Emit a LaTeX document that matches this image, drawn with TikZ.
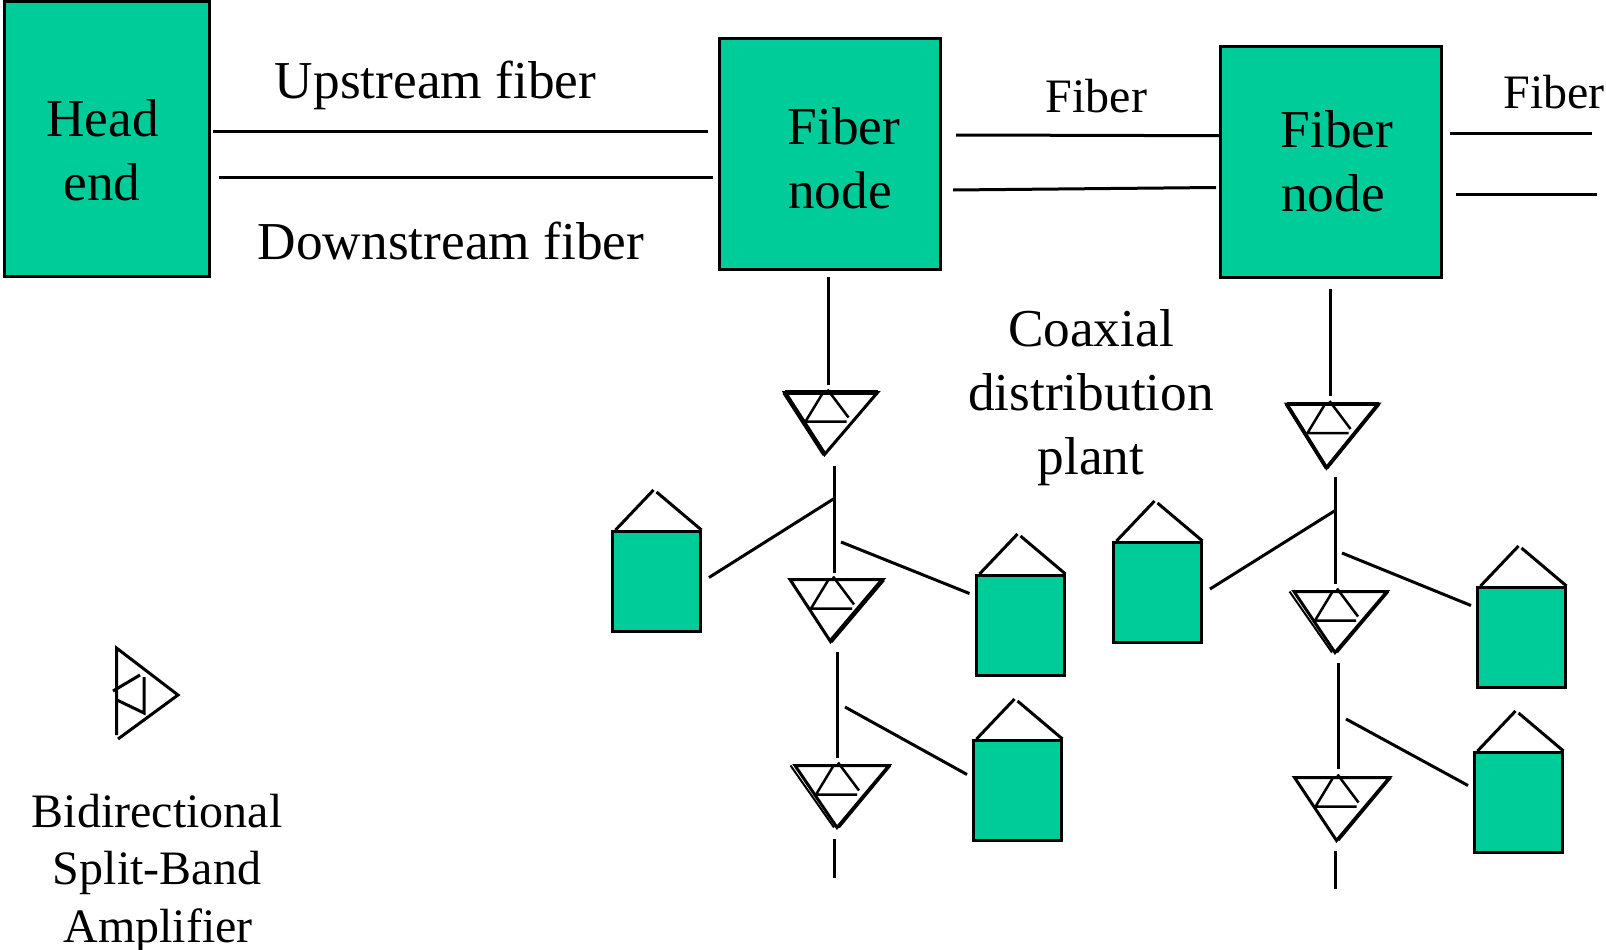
\documentclass[tikz,border=0pt]{standalone}
\usepackage{fontspec}
\usetikzlibrary{calc}
\setmainfont{Liberation Serif}
\definecolor{boxgreen}{HTML}{00CC99}
\tikzset{
  conn/.style={draw=black,line width=3pt},
  heavy/.style={draw=black,line width=4.6pt},
  dbl/.style={draw=black,line width=2pt},
  greenbox/.style={draw=black,fill=boxgreen,line width=3pt,rectangle,inner sep=0pt,outer sep=0pt,anchor=north west},
  housebox/.style={greenbox,minimum width=88pt,minimum height=100pt},
  lab/.style={anchor=base,inner sep=0pt,font=\fontsize{53.3}{60}\selectfont},
  smalllab/.style={anchor=base,inner sep=0pt,font=\fontsize{48}{56}\selectfont},
}
% amplifier: name, x, y of top-left corner, width, bottom dx, bottom dy
\newcommand{\ampunit}[6]{%
  \begin{scope}[shift={(#2,#3)}]
    \coordinate (#1l) at (0,0);
    \coordinate (#1r) at (#4,0);
    \coordinate (#1b) at (#5,#6);
    \coordinate (#1i1) at (21,29);
    \coordinate (#1i2) at (62,29);
    \coordinate (#1i3) at (38,1);
    \coordinate (#1i4) at (46,1);
    \coordinate (#1i5) at (64,25);
    \coordinate (#1i6) at (43,-3);
    \draw[conn,line join=miter] (#1l) -- (#1r) -- (#1b) -- cycle;
    \draw[conn,line width=2.5pt] (#1i3) -- (#1i1) -- (#1i2);
    \draw[conn,line width=2.5pt] (#1i6) -- (#1i4) -- (#1i5);
  \end{scope}}
% house: name, x, y of box top-left corner
\newcommand{\houseunit}[3]{%
  \node[housebox] (#1) at (#2,#3) {};
  \begin{scope}[shift={(#2,#3)}]
    \coordinate (#1r1) at (3,-1);
    \coordinate (#1r2) at (41,-41);
    \coordinate (#1r3) at (44,-39);
    \coordinate (#1r4) at (89,-1);
    \draw[conn] (#1r1) -- (#1r2);
    \draw[conn] (#1r3) -- (#1r4);
  \end{scope}}
\begin{document}
\begin{tikzpicture}[x=1pt,y=-1pt]
\useasboundingbox (0,0) rectangle (1606,950);

% main boxes
\node[greenbox,minimum width=205pt,minimum height=274pt] (head) at (4,2) {};
\node[greenbox,minimum width=221pt,minimum height=230pt] (fn1) at (719,39) {};
\node[greenbox,minimum width=221pt,minimum height=230pt] (fn2) at (1220,47) {};

% box texts
\node[lab] (t1) at (102.5,136.5) {Head};
\node[lab] (t2) at (102,200.5) {end};
\node[lab] (t3) at (844,144.5) {Fiber};
\node[lab] (t4) at (840,208.5) {node};
\node[lab] (t5) at (1337,147.5) {Fiber};
\node[lab] (t6) at (1333,211.5) {node};

% free labels
\node[lab] (l1) at (435.5,99) {Upstream fiber};
\node[lab] (l2) at (451,259.5) {Downstream fiber};
\node[smalllab] (l3) at (1096.5,112) {Fiber};
\node[smalllab] (l4) at (1554,108) {Fiber};
\node[lab] (l5) at (1091,346.5) {Coaxial};
\node[lab] (l6) at (1091,410.5) {distribution};
\node[lab] (l7) at (1091,474.5) {plant};
\node[smalllab] (l8) at (157,827) {Bidirectional};
\node[smalllab] (l9) at (157,884) {Split-Band};
\node[smalllab] (l10) at (158,942) {Amplifier};

% connector ends, top row
\coordinate (u1) at (213,131.5);   \coordinate (u2) at (708,131.5);
\coordinate (d1) at (219,177.5); \coordinate (d2) at (713,177.5);
\coordinate (f1) at (956,135);   \coordinate (f2) at (1220,135.7);
\coordinate (g1) at (953,190);   \coordinate (g2) at (1216,187.5);
\coordinate (h1) at (1450,133.5);\coordinate (h2) at (1592,133.5);
\coordinate (k1) at (1456,194.5);  \coordinate (k2) at (1597,194.5);
\draw[conn] (u1) -- (u2);
\draw[conn] (d1) -- (d2);
\draw[conn] (f1) -- (f2);
\draw[conn] (g1) -- (g2);
\draw[conn] (h1) -- (h2);
\draw[conn] (k1) -- (k2);

% amplifiers
\ampunit{a1}{784.5}{392.5}{93}{40}{62}
\ampunit{a2}{790}{579.5}{93}{40.5}{62}
\ampunit{a3}{795}{765.5}{94}{42}{62}
\ampunit{b1}{1286.5}{404}{92}{40}{64}
\ampunit{b2}{1294}{591.5}{93}{41}{61}
\ampunit{b3}{1294.5}{777.5}{95}{42}{63}
% heavier and doubled sides
\draw[heavy] (a1l) -- (a1b);
\draw[heavy] (a1l) -- (a1r);
\draw[heavy] (a2r) -- (a2b);
\draw[dbl] ($(a3l)+(-4.5,0)$) -- ($(a3b)+(-3,0)$);
\draw[dbl] ($(a3r)+(1.5,0)$) -- ($(a3b)+(2,0)$);
\draw[heavy] (b1l) -- (b1r);
\draw[heavy,line width=3.8pt] (b1l) -- (b1b);
\draw[heavy,line width=3.8pt] (b1r) -- (b1b);
\draw[dbl] ($(b2l)+(-4.5,0)$) -- ($(b2b)+(-3,0)$);
\draw[dbl] ($(b2r)+(1.5,0)$) -- ($(b2b)+(2,0)$);
\draw[heavy,line width=3.8pt] (b3l) -- (b3r);
\draw[dbl] ($(b3r)+(1.5,0)$) -- ($(b3b)+(2,0)$);

% houses
\houseunit{ha}{612.5}{531}
\houseunit{hb}{976.5}{575}
\houseunit{hc}{973.5}{740}
\houseunit{hd}{1113.5}{542}
\houseunit{he}{1477.5}{587}
\houseunit{hf}{1474.5}{752}

% left column connectors
\coordinate (a0) at (828.5,277);    \coordinate (a0e) at (828.5,385);
\coordinate (a11) at (834.5,466);   \coordinate (a12) at (834.5,573);
\coordinate (a21) at (709,577.5); \coordinate (a22) at (835,498);
\coordinate (a31) at (841,542);   \coordinate (a32) at (969.5,593.5);
\coordinate (a41) at (837.5,652);   \coordinate (a42) at (837.5,758);
\coordinate (a51) at (845,707);   \coordinate (a52) at (967,774.5);
\coordinate (a61) at (834.5,839);   \coordinate (a62) at (834.5,878);
\draw[conn] (a0) -- (a0e);
\draw[conn] (a11) -- (a12);
\draw[conn] (a21) -- (a22);
\draw[conn] (a31) -- (a32);
\draw[conn] (a41) -- (a42);
\draw[conn] (a51) -- (a52);
\draw[conn] (a61) -- (a62);

% right column connectors
\coordinate (b0) at (1330,289);   \coordinate (b0e) at (1330,396);
\coordinate (b11) at (1335.5,477);  \coordinate (b12) at (1335.5,584);
\coordinate (b21) at (1210,589);  \coordinate (b22) at (1336,510);
\coordinate (b31) at (1342,553);  \coordinate (b32) at (1471,605.5);
\coordinate (b41) at (1338,663);  \coordinate (b42) at (1338,769);
\coordinate (b51) at (1346,719);  \coordinate (b52) at (1468,785.5);
\coordinate (b61) at (1335.5,851);  \coordinate (b62) at (1335.5,889);
\draw[conn] (b0) -- (b0e);
\draw[conn] (b11) -- (b12);
\draw[conn] (b21) -- (b22);
\draw[conn] (b31) -- (b32);
\draw[conn] (b41) -- (b42);
\draw[conn] (b51) -- (b52);
\draw[conn] (b61) -- (b62);

% legend amplifier
\coordinate (m1) at (116.5,648);  \coordinate (m2) at (116.5,735);
\coordinate (m3) at (178,695);  \coordinate (m4) at (118,739);
\coordinate (m5) at (113,691);  \coordinate (m6) at (140,675);
\coordinate (m7) at (144,677);  \coordinate (m8) at (144,713);
\coordinate (m9) at (117,700);
\draw[conn] (m2) -- (m1) -- (m3) -- (m4);
\draw[conn] (m5) -- (m6);
\draw[conn] (m7) -- (m8) -- (m9);
\end{tikzpicture}
\end{document}
